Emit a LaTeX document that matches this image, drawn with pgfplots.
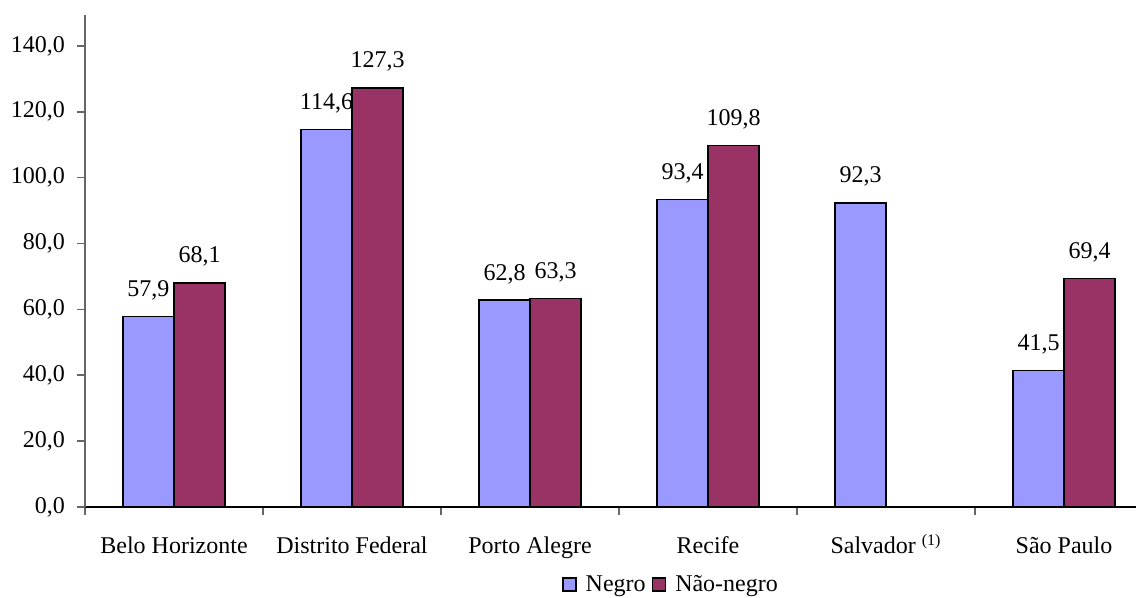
\documentclass[border=0pt]{standalone}
\usepackage{fontspec}
\setmainfont{Liberation Serif}
\usepackage{pgfplots}
\pgfplotsset{compat=1.18}
\definecolor{negro}{HTML}{9999FF}
\definecolor{naonegro}{HTML}{993366}
\pgfplotsset{/pgf/number format/.cd, fixed, fixed zerofill, precision=1, use comma, assume math mode=true}

\begin{document}
\begin{tikzpicture}[font=\fontsize{12}{14}\selectfont]
\begin{axis}[
  scale only axis, width=534pt, height=246pt,
  xmin=-0.5, xmax=5.5, ymin=0, ymax=149.4,
  axis x line*=bottom, axis y line*=left,
  x axis line style={black, line width=0.8pt},
  y axis line style={gray!80!black, line width=0.8pt},
  ytick={0,20,...,140},
  xtick={0,...,5},
  xticklabels={Belo Horizonte, Distrito Federal, Porto Alegre, Recife, {Salvador \textsuperscript{(1)}}, São Paulo},
  minor xtick={-0.5,0.5,...,5.5},
  tick align=outside,
  major tick length=4pt, minor tick length=4pt,
  major x tick style={draw=none},
  minor x tick style={gray!80!black, line width=0.8pt},
  y tick style={gray!80!black, line width=0.8pt},
  yticklabel style={xshift=-2.5pt},
  xticklabel style={anchor=base, yshift=-19.5pt},
  ybar=0pt, bar width=25.5pt,
  legend style={draw=none, at={(axis description cs:0.5496,-0.158)}, anchor=center,
    legend columns=2,
    /tikz/every odd column/.append style={column sep=2.5pt},
    /tikz/every even column/.append style={column sep=1pt},
    font=\fontsize{12}{14}\selectfont},
  legend image code/.code={\draw[#1, draw=black, line width=0.8pt] (0pt,-3.25pt) rectangle (6.5pt,3.25pt);},
  nodes near coords,
  every node near coord/.append style={anchor=south, inner sep=0pt, yshift=7.8pt, font=\fontsize{12}{14}\selectfont, black},
]
\addplot[fill=negro, draw=black, line width=0.8pt] coordinates {(0,57.9) (1,114.6) (2,62.8) (3,93.4) (4,92.3) (5,41.5)};
\addplot[fill=naonegro, draw=black, line width=0.8pt] coordinates {(0,68.1) (1,127.3) (2,63.3) (3,109.8) (5,69.4)};
\legend{Negro, Não-negro}
\end{axis}
\pgfresetboundingbox
\path[use as bounding box] ([xshift=-42.5pt,yshift=-45.5pt]current axis.south west) rectangle ++(568pt,299pt);
\end{tikzpicture}
\end{document}
